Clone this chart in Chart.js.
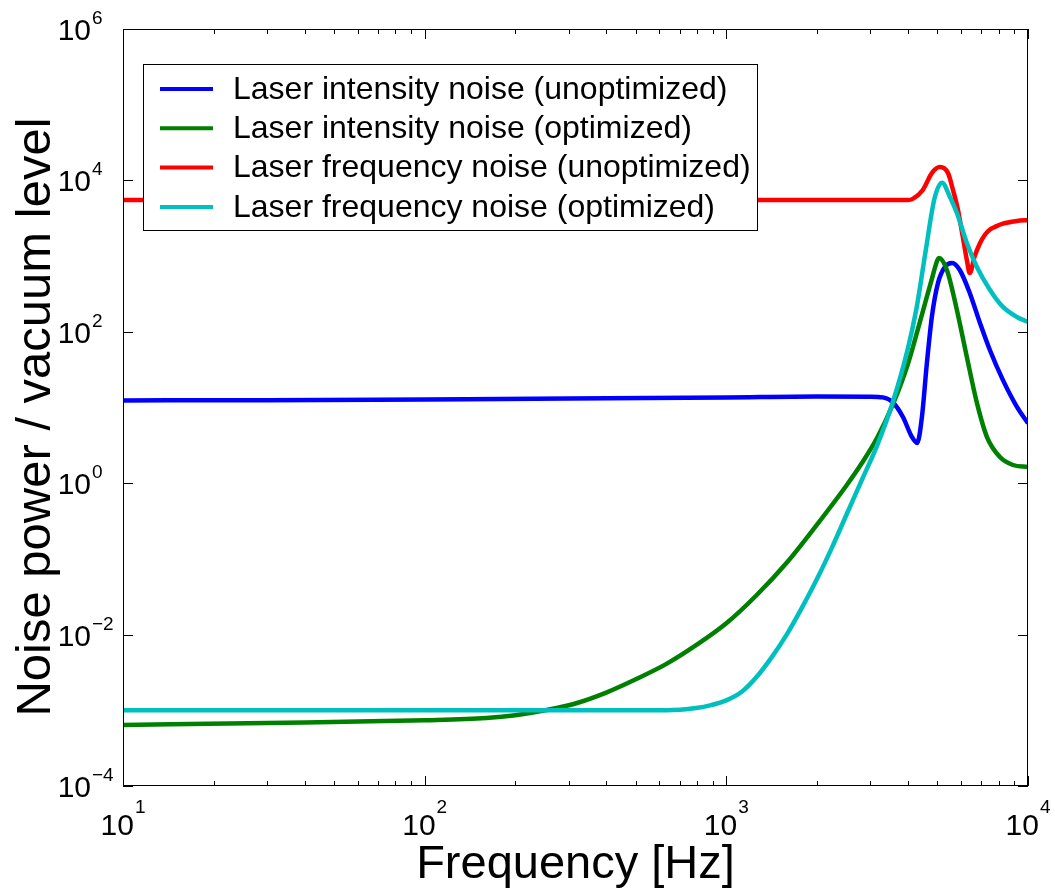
<!DOCTYPE html>
<html>
<head>
<meta charset="utf-8">
<title>Noise power / vacuum level</title>
<script src="https://cdn.jsdelivr.net/npm/chart.js@4.4.1/dist/chart.umd.min.js"></script>
<style>
  html, body { margin: 0; padding: 0; background: #fff; }
</style>
</head>
<body>
<canvas id="mycanvas" width="1055" height="890"></canvas>
<script>
// legend text + colours (old matlab colour order)
var seriesNames = [
  'Laser intensity noise (unoptimized)',
  'Laser intensity noise (optimized)',
  'Laser frequency noise (unoptimized)',
  'Laser frequency noise (optimized)'
];
var seriesColors = ['#0000ff', '#008000', '#ff0000', '#00bfbf'];

// values, frequency in Hz
var intUnoptFreq = [10, 30, 100, 300, 1000, 2000, 3000, 3300, 3560, 3850, 4120, 4290, 4450, 4620, 4800, 5030, 5300, 5600, 5940, 6410, 6930, 7480, 8260, 9190, 10000];
var intUnoptNoise = [12.4, 12.5, 12.8, 13.1, 13.6, 14.0, 13.9, 13.6, 11.8, 7.5, 4.1, 3.4, 7.5, 38, 157, 441, 718, 811, 655, 326, 131, 57, 23, 10.2, 6.2];

var intOptFreq = [10, 30, 100, 160, 200, 251, 316, 398, 501, 631, 794, 1000, 1259, 1585, 1995, 2512, 2818, 3162, 3548, 3981, 4467, 4786, 5012, 5070, 5385, 5811, 6270, 6771, 7311, 8072, 8915, 10000];
var intOptNoise = [6.4e-4, 6.8e-4, 7.4e-4, 7.9e-4, 8.6e-4, 1.0e-3, 1.23e-3, 1.70e-3, 2.57e-3, 4.07e-3, 7.24e-3, 0.0141, 0.0331, 0.0891, 0.282, 0.955, 1.86, 3.98, 10.5, 35.5, 178, 479, 891, 944, 655, 194, 46.5, 11.5, 4.07, 2.22, 1.74, 1.64];

var freqUnoptFreq = [10, 100, 1000, 3000, 4000, 4150, 4480, 4800, 5100, 5430, 5640, 5860, 6080, 6270, 6410, 6660, 6930, 7190, 7480, 7800, 8260, 9190, 10000];
var freqUnoptNoise = [5500, 5500, 5500, 5500, 5500, 5700, 7470, 12500, 15000, 12500, 7470, 4060, 1790, 888, 598, 1000, 1480, 1900, 2240, 2450, 2690, 2910, 3000];

var freqOptFreq = [10, 100, 631, 794, 891, 1000, 1122, 1259, 1413, 1585, 1778, 1995, 2239, 2512, 2818, 3162, 3548, 3981, 4266, 4571, 4898, 5188, 5511, 5811, 6270, 6771, 7482, 8260, 9186, 10000];
var freqOptNoise = [1.0e-3, 1.0e-3, 1.0e-3, 1.07e-3, 1.17e-3, 1.35e-3, 1.74e-3, 2.75e-3, 5.0e-3, 0.01, 0.0224, 0.0537, 0.141, 0.398, 1.12, 3.16, 11.2, 56.2, 200, 1122, 5754, 9333, 6040, 3710, 1490, 718, 357, 213, 157, 135];

// tick labels are 10^exp
var xTickExps = [1, 2, 3, 4];
var yTickExps = [6, 4, 2, 0, -2, -4];

var FONT = '"Liberation Sans", Arial, Helvetica, sans-serif';

function toPoints(f, v) {
  var pts = [];
  for (var i = 0; i < f.length; i++) pts.push({x: f[i], y: v[i]});
  return pts;
}

function expText(e) {
  return e < 0 ? '\u2212' + (-e) : String(e);
}

// the axes box, inward ticks, 10^n labels, titles and the legend box
var framePlugin = {
  id: 'frame',
  afterDatasetsDraw: function(chart) {
    var ctx = chart.ctx;
    var a = chart.chartArea;
    var xs = chart.scales.x, ys = chart.scales.y;
    ctx.save();
    ctx.strokeStyle = '#000';
    ctx.fillStyle = '#000';
    ctx.lineWidth = 1;

    ctx.strokeRect(a.left + 0.5, a.top + 0.5, a.right - a.left - 1, a.bottom - a.top - 1);

    // x ticks, decades + 2..9 minors, top and bottom
    ctx.beginPath();
    for (var d = 1; d <= 4; d++) {
      for (var m = 1; m <= 9; m++) {
        var f = m * Math.pow(10, d);
        if (f > 10000) break;
        var px = Math.round(xs.getPixelForValue(f)) + 0.5;
        var len = m === 1 ? 10 : 5;
        ctx.moveTo(px, a.bottom); ctx.lineTo(px, a.bottom - len);
        ctx.moveTo(px, a.top); ctx.lineTo(px, a.top + len);
      }
    }
    // y ticks every 2 decades, left and right
    yTickExps.forEach(function(e) {
      var py = Math.round(ys.getPixelForValue(Math.pow(10, e))) + 0.5;
      ctx.moveTo(a.left, py); ctx.lineTo(a.left + 10, py);
      ctx.moveTo(a.right, py); ctx.lineTo(a.right - 10, py);
    });
    ctx.stroke();

    // y tick labels
    yTickExps.forEach(function(e) {
      var py = ys.getPixelForValue(Math.pow(10, e));
      ctx.font = '30px ' + FONT;
      ctx.textAlign = 'right';
      ctx.textBaseline = 'alphabetic';
      ctx.fillText('10', 91, py + 11);
      ctx.font = '19px ' + FONT;
      ctx.textAlign = 'left';
      ctx.fillText(expText(e), 92, py - 5);
    });

    // x tick labels, centred on the tick
    xTickExps.forEach(function(e) {
      var px = xs.getPixelForValue(Math.pow(10, e));
      ctx.font = '30px ' + FONT;
      var wb = ctx.measureText('10').width;
      ctx.font = '19px ' + FONT;
      var we = ctx.measureText(expText(e)).width;
      var left = px - (wb + we + 1) / 2;
      ctx.textAlign = 'left';
      ctx.font = '30px ' + FONT;
      ctx.fillText('10', left, a.bottom + 49);
      ctx.font = '19px ' + FONT;
      ctx.fillText(expText(e), left + wb + 1, a.bottom + 27);
    });

    // axis titles
    ctx.font = '47px ' + FONT;
    ctx.textAlign = 'center';
    ctx.fillText('Frequency [Hz]', (a.left + a.right) / 2, 878);
    ctx.save();
    ctx.translate(50, 417);
    ctx.rotate(-Math.PI / 2);
    ctx.font = '49px ' + FONT;
    ctx.fillText('Noise power / vacuum level', 0, 0);
    ctx.restore();

    // legend
    ctx.fillStyle = '#fff';
    ctx.fillRect(143, 64, 614, 166);
    ctx.strokeRect(143.5, 64.5, 614, 166);
    ctx.font = '32px ' + FONT;
    ctx.textAlign = 'left';
    ctx.textBaseline = 'middle';
    for (var i = 0; i < seriesNames.length; i++) {
      var ly = 89 + i * 39.3;
      ctx.strokeStyle = seriesColors[i];
      ctx.lineWidth = 4;
      ctx.beginPath();
      ctx.moveTo(160, ly); ctx.lineTo(213, ly);
      ctx.stroke();
      ctx.fillStyle = '#000';
      ctx.fillText(seriesNames[i], 233, ly + 1);
    }
    ctx.restore();
  }
};

var allFreq = [intUnoptFreq, intOptFreq, freqUnoptFreq, freqOptFreq];
var allNoise = [intUnoptNoise, intOptNoise, freqUnoptNoise, freqOptNoise];

var datasets = [];
for (var i = 0; i < seriesNames.length; i++) {
  datasets.push({
    label: seriesNames[i],
    data: toPoints(allFreq[i], allNoise[i]),
    borderColor: seriesColors[i],
    backgroundColor: seriesColors[i],
    borderWidth: 4.5,
    pointRadius: 0,
    fill: false,
    cubicInterpolationMode: 'monotone',
    order: seriesNames.length - i // later series drawn on top, like matlab
  });
}

var ctx = document.getElementById('mycanvas');

var noiseChart = new Chart(ctx, {
  type: 'line',
  data: { datasets: datasets },
  options: {
    responsive: false,
    devicePixelRatio: 1,
    animation: false,
    layout: { padding: { left: 123, top: 29, right: 27, bottom: 104 } },
    scales: {
      x: { type: 'logarithmic', min: 10, max: 10000, display: false },
      y: { type: 'logarithmic', min: 1e-4, max: 1e6, display: false }
    },
    plugins: {
      legend: { display: false },
      tooltip: { enabled: false }
    }
  },
  plugins: [framePlugin]
});
</script>
</body>
</html>
